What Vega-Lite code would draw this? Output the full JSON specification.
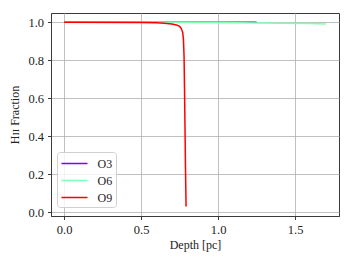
{
  "$schema": "https://vega.github.io/schema/vega-lite/v6.json",
  "width": 288,
  "height": 203,
  "autosize": {"type": "none"},
  "padding": {"left": 51, "top": 13, "right": 13, "bottom": 48},
  "config": {
    "font": "Liberation Serif",
    "view": {"stroke": "#3a3a3a", "strokeWidth": 1},
    "axis": {
      "gridColor": "#b0b0b0",
      "gridWidth": 0.8,
      "domainColor": "#3a3a3a",
      "tickColor": "#3a3a3a",
      "tickSize": 3.5,
      "labelFont": "Liberation Serif",
      "labelFontSize": 12.5,
      "labelColor": "#222",
      "titleFont": "Liberation Serif",
      "titleFontSize": 12,
      "titleFontWeight": "normal",
      "titleColor": "#222"
    }
  },
  "data": {
    "values": [
      {"series": "O3", "depth": 0.0, "frac": 1.0},
      {"series": "O3", "depth": 0.5, "frac": 1.0},
      {"series": "O3", "depth": 1.0, "frac": 0.9998},
      {"series": "O3", "depth": 1.25, "frac": 0.9995},
      {"series": "O6", "depth": 0.0, "frac": 1.0},
      {"series": "O6", "depth": 0.5, "frac": 0.9995},
      {"series": "O6", "depth": 1.0, "frac": 0.998},
      {"series": "O6", "depth": 1.4, "frac": 0.995},
      {"series": "O6", "depth": 1.6, "frac": 0.993},
      {"series": "O6", "depth": 1.7, "frac": 0.991},
      {"series": "O9", "depth": 0.0, "frac": 1.0},
      {"series": "O9", "depth": 0.5, "frac": 0.999},
      {"series": "O9", "depth": 0.6, "frac": 0.997},
      {"series": "O9", "depth": 0.65, "frac": 0.995},
      {"series": "O9", "depth": 0.7, "frac": 0.991},
      {"series": "O9", "depth": 0.73, "frac": 0.986},
      {"series": "O9", "depth": 0.75, "frac": 0.978},
      {"series": "O9", "depth": 0.76, "frac": 0.968},
      {"series": "O9", "depth": 0.77, "frac": 0.948},
      {"series": "O9", "depth": 0.775, "frac": 0.91},
      {"series": "O9", "depth": 0.779, "frac": 0.82},
      {"series": "O9", "depth": 0.782, "frac": 0.65},
      {"series": "O9", "depth": 0.785, "frac": 0.45},
      {"series": "O9", "depth": 0.788, "frac": 0.25},
      {"series": "O9", "depth": 0.792, "frac": 0.032}
    ]
  },
  "mark": {"type": "line", "strokeWidth": 1.5, "clip": true},
  "encoding": {
    "x": {
      "field": "depth",
      "type": "quantitative",
      "scale": {"domain": [-0.085, 1.785], "nice": false, "zero": false},
      "axis": {"values": [0, 0.5, 1, 1.5], "format": ".1f", "title": "Depth [pc]", "labelPadding": 4, "titlePadding": 3}
    },
    "y": {
      "field": "frac",
      "type": "quantitative",
      "scale": {"domain": [-0.0185, 1.0485], "nice": false, "zero": false},
      "axis": {"values": [0, 0.2, 0.4, 0.6, 0.8, 1.0], "format": ".1f", "title": "Hɪɪ Fraction", "labelPadding": 4, "titlePadding": 6}
    },
    "color": {
      "field": "series",
      "type": "nominal",
      "scale": {"domain": ["O3", "O6", "O9"], "range": ["#8000ff", "#80ffb4", "#ff0000"]},
      "legend": {
        "title": null,
        "orient": "none",
        "legendX": 6,
        "legendY": 139,
        "symbolType": "M-1.86,0H1.86",
        "symbolSize": 196,
        "symbolStrokeWidth": 1.5,
        "symbolOffset": 6,
        "labelFontSize": 12,
        "labelFont": "Liberation Serif",
        "labelColor": "#222",
        "labelOffset": 15,
        "rowPadding": 3,
        "padding": 3.5,
        "strokeColor": "#d0d0d0",
        "fillColor": "rgba(255,255,255,0.8)",
        "cornerRadius": 3
      }
    },
    "order": {"field": "series"}
  }
}
